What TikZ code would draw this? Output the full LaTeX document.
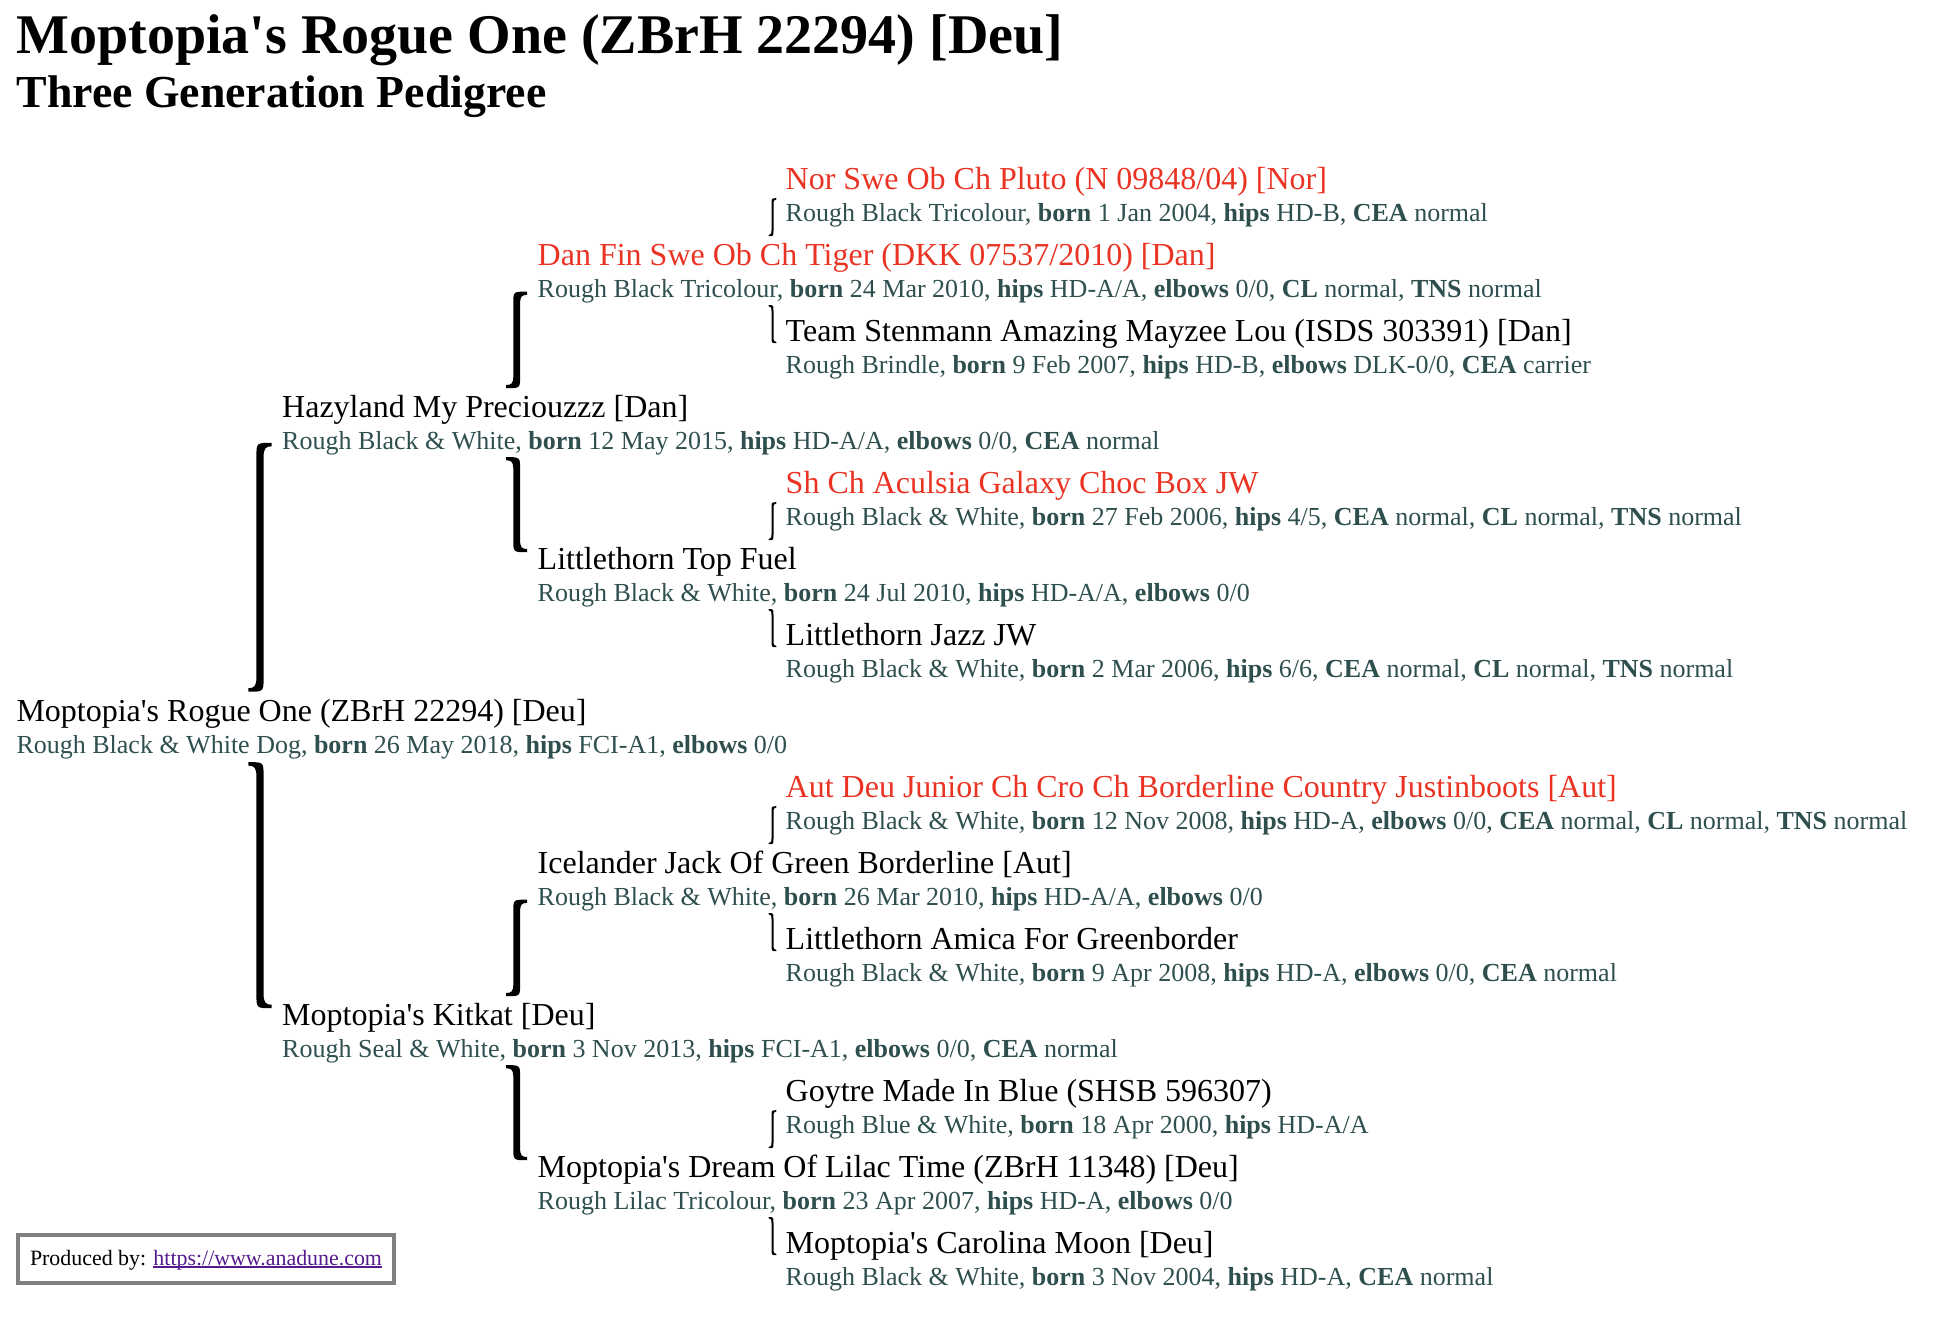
\documentclass[tikz,border=0pt]{standalone}
\usepackage{fontspec}
\setmainfont{Liberation Serif}
\usetikzlibrary{calc}
\definecolor{pedred}{RGB}{234,51,35}
\definecolor{detail}{RGB}{47,79,79}
\definecolor{linkc}{RGB}{85,26,139}
\definecolor{footgray}{RGB}{128,128,128}
\newcommand{\ap}{\textquotesingle}
\newcommand{\linkul}[1]{\setbox0\hbox{#1}\rlap{\rule[-2.6pt]{\wd0}{1.3pt}}\copy0}
% #1 X, #2 Ytop, #3 Ybot, #4 direction (1: top hook right, (-1): top hook left), #5 hook, #6 half thickness, #7 radius, #8 tip
\newcommand{\brpath}[8]{%
 ({#1+#4*#5},{#2}) .. controls ({#1-#4*#6},{#2}) and ({#1-#4*#6},{#2}) .. ({#1-#4*#6},{#2-#7})
 -- ({#1-#4*#6},{#3+#7}) .. controls ({#1-#4*#6},{#3+0.4*#7}) and ({#1-0.5*#4*#5},{#3+#8}) .. ({#1-#4*#5},{#3+#8})
 -- ({#1-#4*#5},{#3}) .. controls ({#1+#4*#6},{#3}) and ({#1+#4*#6},{#3}) .. ({#1+#4*#6},{#3+#7})
 -- ({#1+#4*#6},{#2-#7}) .. controls ({#1+#4*#6},{#2-0.4*#7}) and ({#1+0.5*#4*#5},{#2-#8}) .. ({#1+#4*#5},{#2-#8}) -- cycle}
\begin{document}
\begin{tikzpicture}[x=1pt,y=1pt,
 nm/.style={anchor=base west, inner sep=0pt, font=\fontsize{32}{38}\selectfont, text=black},
 nmred/.style={nm, text=pedred},
 dt/.style={anchor=base west, inner sep=0pt, font=\fontsize{26}{31}\selectfont, text=detail},
 brk/.style={fill=black},
 ttl/.style={anchor=base west, inner sep=0pt, font=\bfseries\fontsize{56}{64}\selectfont},
 subttl/.style={anchor=base west, inner sep=0pt, font=\bfseries\fontsize{45.8}{52}\selectfont},
 footbox/.style={draw=footgray, line width=4pt, minimum width=376pt, minimum height=48.3pt, inner sep=0pt, text height=17pt, text depth=4.7pt, font=\fontsize{21.9}{26}\selectfont}
]
\useasboundingbox (0,0) rectangle (1950,-1320);

\node[ttl] (title) at (16.3,-53.3) {Moptopia\ap s Rogue One (ZBrH 22294) [Deu]};
\node[subttl] (subtitle) at (16.3,-107) {Three Generation Pedigree};

% generation 3
\node[nmred] (pl) at (785.5,-189.2) {Nor Swe Ob Ch Pluto (N 09848/04) [Nor]};
\node[dt] (pld) at (785.5,-221.6) {Rough Black Tricolour, \textbf{born} 1 Jan 2004, \textbf{hips} HD-B, \textbf{CEA} normal};
\node[nm] (ts) at (785.5,-341.2) {Team Stenmann Amazing Mayzee Lou (ISDS 303391) [Dan]};
\node[dt] (tsd) at (785.5,-373.6) {Rough Brindle, \textbf{born} 9 Feb 2007, \textbf{hips} HD-B, \textbf{elbows} DLK-0/0, \textbf{CEA} carrier};
\node[nmred] (sc) at (785.5,-493.2) {Sh Ch Aculsia Galaxy Choc Box JW};
\node[dt] (scd) at (785.5,-525.6) {Rough Black \& White, \textbf{born} 27 Feb 2006, \textbf{hips} 4/5, \textbf{CEA} normal, \textbf{CL} normal, \textbf{TNS} normal};
\node[nm] (lj) at (785.5,-645.2) {Littlethorn Jazz JW};
\node[dt] (ljd) at (785.5,-677.6) {Rough Black \& White, \textbf{born} 2 Mar 2006, \textbf{hips} 6/6, \textbf{CEA} normal, \textbf{CL} normal, \textbf{TNS} normal};
\node[nmred] (au) at (785.5,-797.2) {Aut Deu Junior Ch Cro Ch Borderline Country Justinboots [Aut]};
\node[dt] (aud) at (785.5,-829.6) {Rough Black \& White, \textbf{born} 12 Nov 2008, \textbf{hips} HD-A, \textbf{elbows} 0/0, \textbf{CEA} normal, \textbf{CL} normal, \textbf{TNS} normal};
\node[nm] (la) at (785.5,-949.2) {Littlethorn Amica For Greenborder};
\node[dt] (lad) at (785.5,-981.6) {Rough Black \& White, \textbf{born} 9 Apr 2008, \textbf{hips} HD-A, \textbf{elbows} 0/0, \textbf{CEA} normal};
\node[nm] (gm) at (785.5,-1101.2) {Goytre Made In Blue (SHSB 596307)};
\node[dt] (gmd) at (785.5,-1133.6) {Rough Blue \& White, \textbf{born} 18 Apr 2000, \textbf{hips} HD-A/A};
\node[nm] (cm) at (785.5,-1253.2) {Moptopia\ap s Carolina Moon [Deu]};
\node[dt] (cmd) at (785.5,-1285.6) {Rough Black \& White, \textbf{born} 3 Nov 2004, \textbf{hips} HD-A, \textbf{CEA} normal};

% generation 2
\node[nmred] (df) at (537.5,-265.2) {Dan Fin Swe Ob Ch Tiger (DKK 07537/2010) [Dan]};
\node[dt] (dfd) at (537.5,-297.6) {Rough Black Tricolour, \textbf{born} 24 Mar 2010, \textbf{hips} HD-A/A, \textbf{elbows} 0/0, \textbf{CL} normal, \textbf{TNS} normal};
\node[nm] (lt) at (537.5,-569.2) {Littlethorn Top Fuel};
\node[dt] (ltd) at (537.5,-601.6) {Rough Black \& White, \textbf{born} 24 Jul 2010, \textbf{hips} HD-A/A, \textbf{elbows} 0/0};
\node[nm] (ij) at (537.5,-873.2) {Icelander Jack Of Green Borderline [Aut]};
\node[dt] (ijd) at (537.5,-905.6) {Rough Black \& White, \textbf{born} 26 Mar 2010, \textbf{hips} HD-A/A, \textbf{elbows} 0/0};
\node[nm] (dl) at (537.5,-1177.2) {Moptopia\ap s Dream Of Lilac Time (ZBrH 11348) [Deu]};
\node[dt] (dld) at (537.5,-1209.6) {Rough Lilac Tricolour, \textbf{born} 23 Apr 2007, \textbf{hips} HD-A, \textbf{elbows} 0/0};

% generation 1
\node[nm] (hz) at (282,-417.2) {Hazyland My Preciouzzz [Dan]};
\node[dt] (hzd) at (282,-449.6) {Rough Black \& White, \textbf{born} 12 May 2015, \textbf{hips} HD-A/A, \textbf{elbows} 0/0, \textbf{CEA} normal};
\node[nm] (kk) at (282,-1025.2) {Moptopia\ap s Kitkat [Deu]};
\node[dt] (kkd) at (282,-1057.6) {Rough Seal \& White, \textbf{born} 3 Nov 2013, \textbf{hips} FCI-A1, \textbf{elbows} 0/0, \textbf{CEA} normal};

% generation 0
\node[nm] (ro) at (16.3,-721.2) {Moptopia\ap s Rogue One (ZBrH 22294) [Deu]};
\node[dt] (rod) at (16.3,-753.6) {Rough Black \& White Dog, \textbf{born} 26 May 2018, \textbf{hips} FCI-A1, \textbf{elbows} 0/0};

% big brackets
\fill[brk] let \p1=(hzd.base), \p2=(ro.base), \p3=(hz.base west) in \brpath{\x3-22pt}{\y1+6.8pt}{\y2+29.5pt}{1}{11.7pt}{3.6pt}{14pt}{3.5pt};
\fill[brk] let \p1=(rod.base), \p2=(kk.base west) in \brpath{\x2-22pt}{\y1-8.5pt}{\y2+17pt}{(-1)}{11.7pt}{3.6pt}{14pt}{3.5pt};

% medium brackets
\fill[brk] let \p1=(dfd.base), \p2=(hz.base), \p3=(df.base west) in \brpath{\x3-20.8pt}{\y1+6pt}{\y2+29pt}{1}{10.5pt}{3.4pt}{12pt}{3.2pt};
\fill[brk] let \p1=(hzd.base), \p2=(lt.base west) in \brpath{\x2-20.8pt}{\y1-7.5pt}{\y2+17pt}{(-1)}{10.5pt}{3.4pt}{12pt}{3.2pt};
\fill[brk] let \p1=(ijd.base), \p2=(kk.base), \p3=(ij.base west) in \brpath{\x3-20.8pt}{\y1+6pt}{\y2+29pt}{1}{10.5pt}{3.4pt}{12pt}{3.2pt};
\fill[brk] let \p1=(kkd.base), \p2=(dl.base west) in \brpath{\x2-20.8pt}{\y1-7.5pt}{\y2+17pt}{(-1)}{10.5pt}{3.4pt}{12pt}{3.2pt};

% small brackets
\fill[brk] let \p1=(df.base), \p2=(pl.base west) in \brpath{\x2-13pt}{\y1+67pt}{\y1+29pt}{1}{3.8pt}{1pt}{6pt}{1.2pt};
\fill[brk] let \p1=(dfd.base), \p2=(ts.base west) in \brpath{\x2-13pt}{\y1-7.5pt}{\y1-45.5pt}{(-1)}{3.8pt}{1pt}{6pt}{1.2pt};
\fill[brk] let \p1=(lt.base), \p2=(sc.base west) in \brpath{\x2-13pt}{\y1+67pt}{\y1+29pt}{1}{3.8pt}{1pt}{6pt}{1.2pt};
\fill[brk] let \p1=(ltd.base), \p2=(lj.base west) in \brpath{\x2-13pt}{\y1-7.5pt}{\y1-45.5pt}{(-1)}{3.8pt}{1pt}{6pt}{1.2pt};
\fill[brk] let \p1=(ij.base), \p2=(au.base west) in \brpath{\x2-13pt}{\y1+67pt}{\y1+29pt}{1}{3.8pt}{1pt}{6pt}{1.2pt};
\fill[brk] let \p1=(ijd.base), \p2=(la.base west) in \brpath{\x2-13pt}{\y1-7.5pt}{\y1-45.5pt}{(-1)}{3.8pt}{1pt}{6pt}{1.2pt};
\fill[brk] let \p1=(dl.base), \p2=(gm.base west) in \brpath{\x2-13pt}{\y1+67pt}{\y1+29pt}{1}{3.8pt}{1pt}{6pt}{1.2pt};
\fill[brk] let \p1=(dld.base), \p2=(cm.base west) in \brpath{\x2-13pt}{\y1-7.5pt}{\y1-45.5pt}{(-1)}{3.8pt}{1pt}{6pt}{1.2pt};

% footer
\node[footbox] (foot) at (206,-1258.85) {Produced by: \textcolor{linkc}{\linkul{https://www.anadune.com}}};
\end{tikzpicture}
\end{document}
